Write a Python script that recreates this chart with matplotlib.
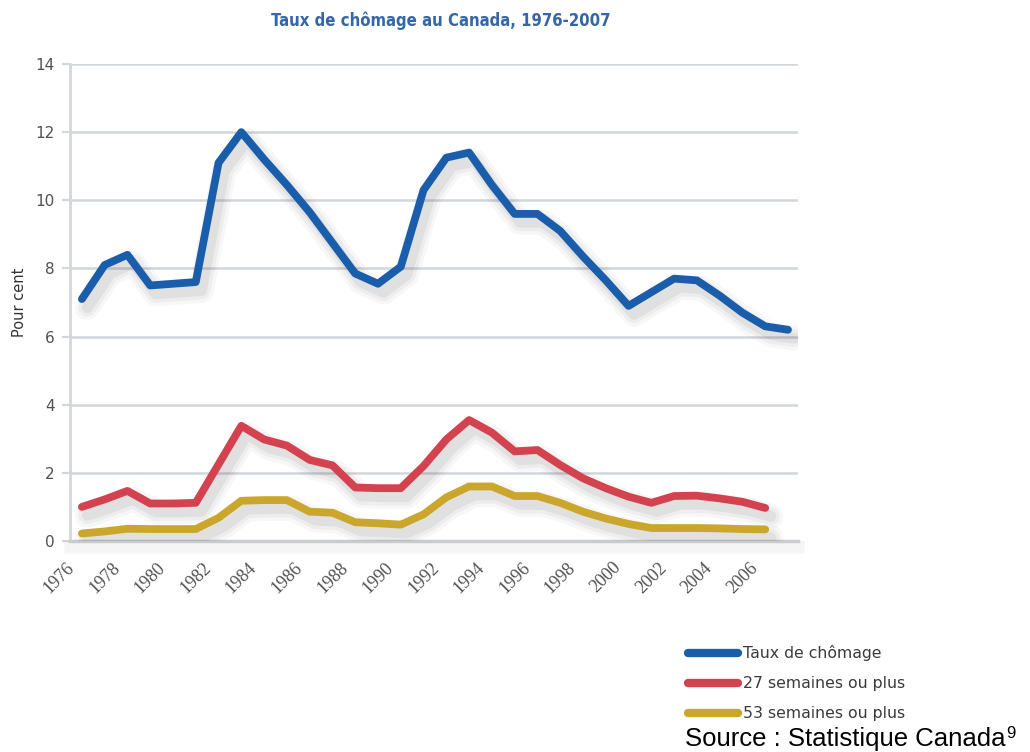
import matplotlib
matplotlib.use("Agg")
import matplotlib.pyplot as plt
import matplotlib.patheffects as pe
from matplotlib.transforms import ScaledTranslation

# Data
years = list(range(1976, 2008))
taux = [7.1, 8.1, 8.4, 7.5, 7.55, 7.6, 11.1, 12.0, 11.2, 10.45, 9.65, 8.75, 7.85, 7.55,
        8.05, 10.3, 11.25, 11.4, 10.45, 9.6, 9.6, 9.1, 8.35, 7.65, 6.9, 7.3, 7.7, 7.65,
        7.2, 6.7, 6.3, 6.2]
years_dur = list(range(1976, 2007))
sem27 = [1.0, 1.22, 1.47, 1.1, 1.1, 1.12, 2.25, 3.38, 2.98, 2.8, 2.38, 2.22, 1.57, 1.55,
         1.55, 2.2, 2.98, 3.55, 3.18, 2.63, 2.67, 2.23, 1.84, 1.55, 1.3, 1.12, 1.32, 1.33,
         1.25, 1.15, 0.97]
sem53 = [0.22, 0.28, 0.36, 0.35, 0.35, 0.35, 0.68, 1.18, 1.2, 1.2, 0.86, 0.83, 0.55, 0.52,
         0.48, 0.78, 1.28, 1.6, 1.6, 1.32, 1.32, 1.12, 0.86, 0.66, 0.5, 0.38, 0.38, 0.38,
         0.37, 0.35, 0.34]
labels = ["Taux de chômage", "27 semaines ou plus", "53 semaines ou plus"]
xtick_years = list(range(1976, 2007, 2))
yticks = list(range(0, 15, 2))

blue = '#1a5eab'
red = '#d3434f'
gold = '#caa72c'
grid_col = '#d3d7da'

fig = plt.figure(figsize=(10.3, 7.52), dpi=100)
ax = fig.add_axes([0.068, 0.2806, 0.707, 0.6343])

# soft drop shadow under the lines
shadow = [pe.SimpleLineShadow(offset=(4, -6), shadow_color='black', alpha=0.03, linewidth=18),
          pe.SimpleLineShadow(offset=(4, -6), shadow_color='black', alpha=0.04, linewidth=13),
          pe.SimpleLineShadow(offset=(4, -6), shadow_color='black', alpha=0.05, linewidth=8),
          pe.Normal()]

for x, y, c, lab in [(years, taux, blue, labels[0]),
                     (years_dur, sem27, red, labels[1]),
                     (years_dur, sem53, gold, labels[2])]:
    ax.plot(x, y, color=c, lw=5.6, solid_capstyle='round', solid_joinstyle='round',
            label=lab, path_effects=shadow, zorder=3)

ax.set_xlim(1975.48, 2007.45)
ax.set_ylim(0, 14)
ax.set_yticks(yticks)
ax.set_yticklabels([str(v) for v in yticks], fontsize=11, color='#505050')

# year labels sit a little left of their tick, as in the original
ax.set_xticks(xtick_years)
ax.set_xticklabels([])
ax.tick_params(axis='x', length=0)
offset = ScaledTranslation(-11.5 / 72, -13 / 72, fig.dpi_scale_trans)
for yr in xtick_years:
    ax.text(yr, 0, str(yr), transform=ax.get_xaxis_transform() + offset,
            rotation=45, ha='right', va='top', rotation_mode='anchor',
            fontsize=13, color='#505050', family='Liberation Serif', clip_on=False)
ax.tick_params(axis='y', length=6, width=1.6, color=grid_col, pad=5)

ax.grid(axis='y', color=grid_col, lw=1.8, zorder=1)
for s in ['top', 'right']:
    ax.spines[s].set_visible(False)
ax.spines['left'].set_color(grid_col)
ax.spines['left'].set_linewidth(2)
ax.spines['bottom'].set_color('#c8cccf')
ax.spines['bottom'].set_linewidth(2.5)
ax.spines['bottom'].set_path_effects([pe.SimpleLineShadow(offset=(0, -4), alpha=0.04, linewidth=9),
                                      pe.Normal()])
ax.set_ylabel('Pour cent', fontsize=10.5, color='#333333', labelpad=6)

fig.text(0.428, 0.973, 'Taux de chômage au Canada, 1976-2007', ha='center', va='center',
         fontsize=12, fontweight='bold', fontstretch='condensed', color='#3566a8',
         family='DejaVu Sans')

leg = fig.legend(loc='upper left', bbox_to_anchor=(0.662, 0.150), frameon=False,
                 handlelength=3.2, handletextpad=0.3, labelspacing=0.95,
                 borderaxespad=0, prop={'family': 'DejaVu Sans', 'size': 11.3})
for t in leg.get_texts():
    t.set_color('#3a3a3a')
for h in leg.legend_handles:
    h.set_path_effects([])
    h.set_linewidth(6)

src = fig.text(0.665, 0.008, 'Source : Statistique Canada', fontsize=18.5,
               family='Liberation Sans', color='black', ha='left', va='baseline')
fig.canvas.draw()
bb = src.get_window_extent(fig.canvas.get_renderer())
fig.text(bb.x1 / fig.bbox.width + 0.001, 0.018, '9', fontsize=12, family='Liberation Sans',
         color='black', ha='left', va='baseline')

fig.savefig('out.png', dpi=100)
